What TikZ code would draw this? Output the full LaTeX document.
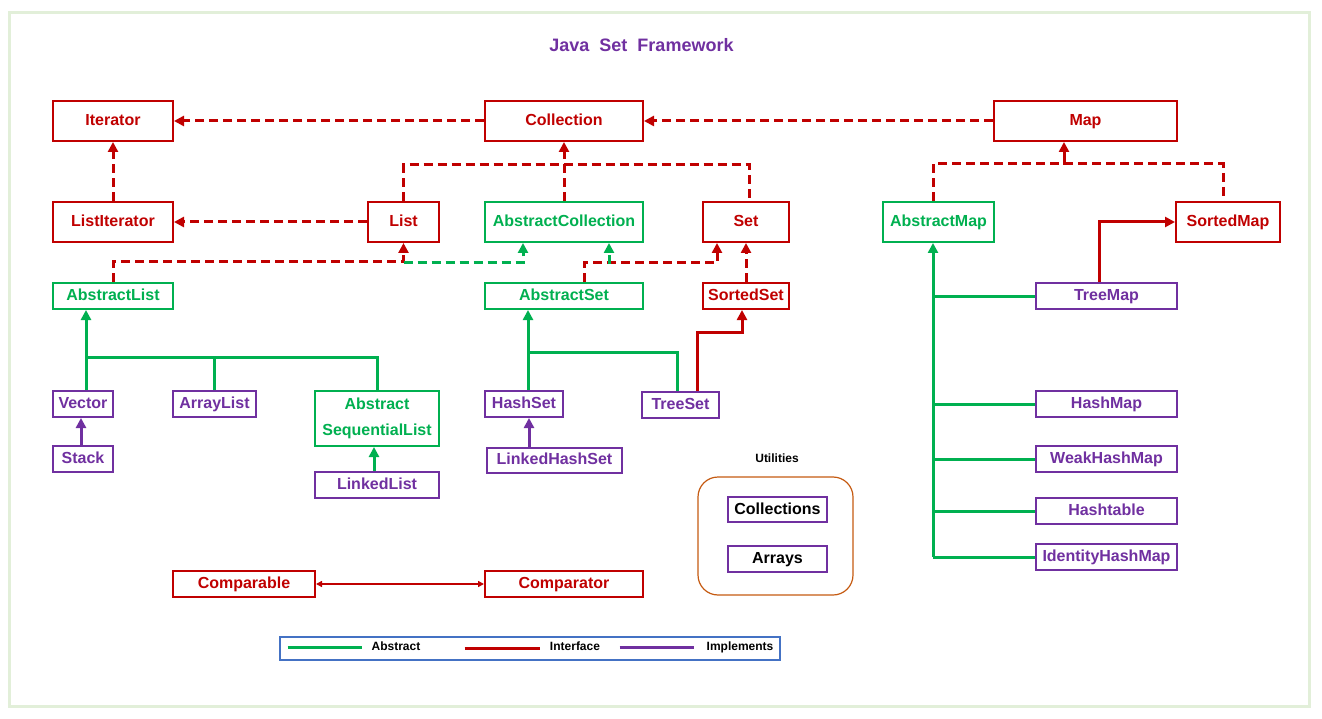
\documentclass[tikz,border=0pt]{standalone}
\usepackage{fontspec}
\setmainfont{Liberation Sans}
\usepackage{tikz}
\usetikzlibrary{arrows.meta}
\definecolor{ifcred}{HTML}{C00000}
\definecolor{absgreen}{HTML}{00B050}
\definecolor{implpurple}{HTML}{7030A0}
\definecolor{legblue}{HTML}{4472C4}
\definecolor{utilbrown}{HTML}{C55A11}
\definecolor{framegreen}{HTML}{E2EFD9}
\tikzset{
  box/.style={rectangle, draw, line width=2pt, fill=white, inner sep=0pt, text height=13pt, text depth=3.5pt, font=\bfseries\fontsize{16}{19}\selectfont},
  ifcbox/.style={box, draw=ifcred, text=ifcred},
  absbox/.style={box, draw=absgreen, text=absgreen},
  implbox/.style={box, draw=implpurple, text=implpurple},
  utilbox/.style={box, draw=implpurple, text=black},
  link/.style={line width=3pt},
  tip/.style={-{Triangle[length=10pt,width=10pt]}},
  dashedlink/.style={link, dash pattern=on 9pt off 5pt},
  ifcline/.style={link, draw=ifcred},
  absline/.style={link, draw=absgreen},
  implline/.style={link, draw=implpurple},
  ifcdashed/.style={dashedlink, draw=ifcred},
  absdashed/.style={dashedlink, draw=absgreen},
  smalltext/.style={font=\bfseries\fontsize{12}{14}\selectfont, text=black, text height=8.5pt, text depth=2.5pt}
}

\begin{document}
\begin{tikzpicture}[x=1pt,y=-1pt]
  \useasboundingbox (0,0) rectangle (1322,719);
  \draw[framegreen, line width=3pt] (9.5,12.5) rectangle (1309.5,706.5);
  \node[font=\bfseries\fontsize{18}{21}\selectfont, text=implpurple] (title) at (641.5,45) {Java\ \ Set\ \ Framework};

  \foreach \x/\y/\w/\h/\lab/\txt in {
    113/121/120/40/iter/Iterator,
    564/121/158/40/coll/Collection,
    1085.5/121/183/40/map/Map,
    113/222/120/40/listit/ListIterator,
    403.5/222/71/40/list/List,
    746/222/86/40/set/Set,
    1228/222/104/40/sortedmap/SortedMap,
    746/296/86/26/sortedset/SortedSet,
    244/584/142/26/comparable/Comparable,
    564/584/158/26/comparator/Comparator%
  } {
    \node[ifcbox, minimum width=\w pt, minimum height=\h pt] (\lab) at (\x,\y) {\txt};
  }
  \foreach \x/\y/\w/\h/\lab/\txt in {
    564/222/158/40/abscoll/AbstractCollection,
    938.5/222/111/40/absmap/AbstractMap,
    113/296/120/26/abslist/AbstractList,
    564/296/158/26/absset/AbstractSet%
  } {
    \node[absbox, minimum width=\w pt, minimum height=\h pt] (\lab) at (\x,\y) {\txt};
  }
  \node[absbox, minimum width=124pt, minimum height=55pt, align=center, text height=, text depth=, font=\bfseries\fontsize{16}{26}\selectfont] (absseq) at (377,418.5) {Abstract\\SequentialList};
  \foreach \x/\y/\w/\h/\lab/\txt in {
    83/404/60/26/vector/Vector,
    214.5/404/83/26/arraylist/ArrayList,
    83/459/60/26/stack/Stack,
    377/485/124/26/linkedlist/LinkedList,
    524/404/78/26/hashset/HashSet,
    680.5/405/77/26/treeset/TreeSet,
    554.5/460/135/25/linkedhashset/LinkedHashSet,
    1106.5/296/141/26/treemap/TreeMap,
    1106.5/404/141/26/hashmap/HashMap,
    1106.5/459/141/26/weakhashmap/WeakHashMap,
    1106.5/511/141/26/hashtable/Hashtable,
    1106.5/557/141/26/idhashmap/IdentityHashMap%
  } {
    \node[implbox, minimum width=\w pt, minimum height=\h pt] (\lab) at (\x,\y) {\txt};
  }

  \node[smalltext] (utiltitle) at (777,459) {Utilities};
  \node[draw=utilbrown, line width=1.2pt, rounded corners=20pt, minimum width=155pt, minimum height=118pt] (utilframe) at (775.5,536) {};
  \node[utilbox, minimum width=99pt, minimum height=25pt] (collections) at (777.5,509.5) {Collections};
  \node[utilbox, minimum width=99pt, minimum height=26pt] (arrays) at (777.5,559) {Arrays};

  \draw[ifcdashed, tip] (coll.west) -- (iter.east);
  \draw[ifcdashed, tip] (map.west) -- (coll.east);
  \draw[ifcdashed, tip] (listit.north) -- (iter.south);
  \draw[ifcdashed, tip] (list.west) -- (listit.east);
  \draw[ifcdashed] (list.north) -- ++(0,-36) -| ([xshift=3pt]set.north);
  \draw[ifcdashed, tip] (abscoll.north) -- (coll.south);
  \draw[ifcdashed, tip] (abslist.north) -- ++(0,-20) -| (list.south);
  \coordinate (jlist) at (403.5,263);
  \draw[absdashed, tip] (jlist) -| ([xshift=-41pt]abscoll.south);
  \draw[ifcdashed, tip] ([xshift=20pt]absset.north) -- ++(0,-19) -| ([xshift=-29pt]set.south);
  \coordinate (jset) at (609,264);
  \draw[absdashed, tip] (jset) -- ([xshift=45pt]abscoll.south);
  \draw[ifcdashed, tip] (sortedset.north) -- (set.south);
  \draw[ifcdashed] ([xshift=-5.5pt]absmap.north) -- ++(0,-37) -| ([xshift=-5pt]sortedmap.north);
  \coordinate (jmap) at (1064,165);
  \draw[ifcline, tip] (jmap) -- ([xshift=-21.5pt]map.south);
  \draw[ifcline, tip] ([xshift=-7pt]treemap.north) |- (sortedmap.west);

  \coordinate (mtrunk) at ([xshift=-5.5pt]absmap.south);
  \draw[absline, tip] (mtrunk |- idhashmap.west) -- (mtrunk);
  \foreach \n in {treemap,hashmap,weakhashmap,hashtable,idhashmap} {
    \draw[absline] (mtrunk |- \n.west) -- (\n.west);
  }

  \draw[absline, tip] ([xshift=3pt]vector.north) -- ([xshift=-27pt]abslist.south);
  \coordinate (lbar) at (86,357);
  \draw[absline] (lbar) -| (absseq.north);
  \draw[absline] (lbar -| arraylist.north) -- (arraylist.north);
  \draw[implline, tip] ([xshift=-2pt]stack.north) -- ([xshift=-2pt]vector.south);
  \draw[absline, tip] ([xshift=-3pt]linkedlist.north) -- ([xshift=-3pt]absseq.south);

  \draw[absline, tip] ([xshift=4pt]hashset.north) -- ([xshift=-36pt]absset.south);
  \coordinate (sbar) at (528,352);
  \draw[absline] (sbar) -| ([xshift=-3.5pt]treeset.north);
  \draw[implline, tip] ([xshift=-25.5pt]linkedhashset.north) -- ([xshift=5pt]hashset.south);
  \draw[ifcline, tip] ([xshift=17pt]treeset.north) -- ++(0,-59) -| ([xshift=-4pt]sortedset.south);

  \draw[draw=ifcred, line width=1.5pt, {Triangle[length=6pt,width=6pt]}-{Triangle[length=6pt,width=6pt]}] (comparable.east) -- (comparator.west);

  \node[draw=legblue, line width=2pt, minimum width=500pt, minimum height=23pt] (legend) at (529.5,648) {};
  \draw[absline] ([xshift=9pt,yshift=1pt]legend.west) -- ++(74,0);
  \node[smalltext] (legabs) at (396,647) {Abstract};
  \draw[ifcline] ([xshift=186pt]legend.west) -- ++(75,0);
  \node[smalltext] (legifc) at (575,647) {Interface};
  \draw[implline] ([xshift=341pt,yshift=1pt]legend.west) -- ++(74,0);
  \node[smalltext] (legimpl) at (740,647) {Implements};
\end{tikzpicture}
\end{document}
